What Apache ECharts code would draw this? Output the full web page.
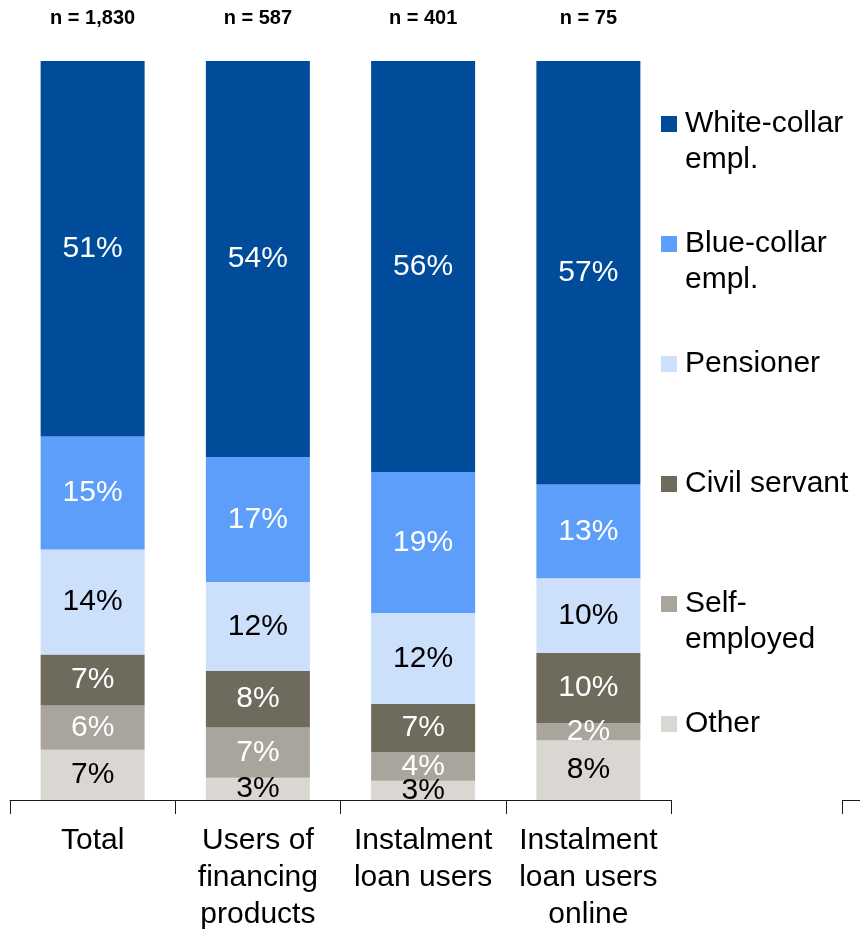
<!DOCTYPE html>
<html>
<head>
<meta charset="utf-8">
<script src="https://cdn.jsdelivr.net/npm/echarts@6/dist/echarts.min.js"></script>
<style>
html,body{margin:0;padding:0;background:#fff;}
#chart{width:860px;height:929px;}
</style>
</head>
<body>
<div id="chart"></div>
<script>
// ---- data ----
const categories = ['Total', 'Users of\nfinancing\nproducts', 'Instalment\nloan users', 'Instalment\nloan users\nonline'];
const sampleSizes = ['n = 1,830', 'n = 587', 'n = 401', 'n = 75'];
const whiteCollar = [50.8, 53.6, 55.6, 57.3];
const blueCollar  = [15.3, 16.9, 19.1, 12.7];
const pensioner   = [14.2, 12.0, 12.3, 10.1];
const civilServant = [6.9, 7.7, 6.5, 9.5];
const selfEmployed = [6.0, 6.8, 3.9, 2.3];
const other        = [6.8, 3.0, 2.6, 8.1];

const FONT = '"Liberation Sans", Arial, sans-serif';

function mkSeries(name, data, color, textColor) {
  return {
    name: name,
    type: 'bar',
    stack: 'total',
    data: data,
    barWidth: 104,
    itemStyle: { color: color },
    label: {
      show: true,
      position: 'inside',
      formatter: p => Math.round(p.value) + '%',
      color: textColor,
      fontSize: 30,
      fontFamily: FONT
    },
    emphasis: { disabled: true }
  };
}

const chart = echarts.init(document.getElementById('chart'), null, { renderer: 'canvas' });
const option = {
  backgroundColor: '#ffffff',
  animation: false,
  grid: { left: 10, right: 189, top: 61, bottom: 129, containLabel: false, outerBoundsMode: 'none' },
  legend: {
    orient: 'vertical',
    left: 661,
    top: 70,
    padding: 0,
    itemWidth: 16,
    itemHeight: 16,
    itemGap: 12,
    icon: 'rect',
    selectedMode: false,
    data: ['White-collar empl.', 'Blue-collar empl.', 'Pensioner', 'Civil servant', 'Self-employed', 'Other'],
    formatter: function (name) {
      const map = {
        'White-collar empl.': ' \nWhite-collar\nempl.',
        'Blue-collar empl.': ' \nBlue-collar\nempl.',
        'Pensioner': ' \nPensioner\n ',
        'Civil servant': ' \nCivil servant\n ',
        'Self-employed': ' \nSelf-\nemployed',
        'Other': ' \nOther\n '
      };
      return map[name];
    },
    textStyle: { fontSize: 30, lineHeight: 36, color: '#000', fontFamily: FONT, padding: [0, 0, 0, 3] }
  },
  xAxis: [
    {
      type: 'category',
      data: categories,
      position: 'bottom',
      axisLine: { show: true, lineStyle: { color: '#1a1a1a', width: 1 } },
      axisTick: { show: true, length: 14, lineStyle: { color: '#1a1a1a' } },
      axisLabel: { fontSize: 30, lineHeight: 37, color: '#000', margin: 22, fontFamily: FONT, interval: 0 }
    },
    {
      type: 'category',
      data: sampleSizes,
      position: 'top',
      axisLine: { show: false },
      axisTick: { show: false },
      axisLabel: { fontSize: 20, fontWeight: 'bold', color: '#000', margin: 33, fontFamily: FONT, interval: 0 }
    }
  ],
  yAxis: { type: 'value', min: 0, max: 100, show: false },
  series: [
    mkSeries('Other', other, '#DAD7D2', '#000'),
    mkSeries('Self-employed', selfEmployed, '#A9A59D', '#fff'),
    mkSeries('Civil servant', civilServant, '#6E6A5C', '#fff'),
    mkSeries('Pensioner', pensioner, '#CCE0FB', '#000'),
    mkSeries('Blue-collar empl.', blueCollar, '#5C9EFA', '#fff'),
    mkSeries('White-collar empl.', whiteCollar, '#004C9B', '#fff')
  ],
  graphic: [
    { type: 'line', shape: { x1: 842, y1: 800.5, x2: 860, y2: 800.5 }, style: { stroke: '#1a1a1a', lineWidth: 1 }, silent: true },
    { type: 'line', shape: { x1: 842.5, y1: 800, x2: 842.5, y2: 814 }, style: { stroke: '#1a1a1a', lineWidth: 1 }, silent: true }
  ]
};
chart.setOption(option);
</script>
</body>
</html>
